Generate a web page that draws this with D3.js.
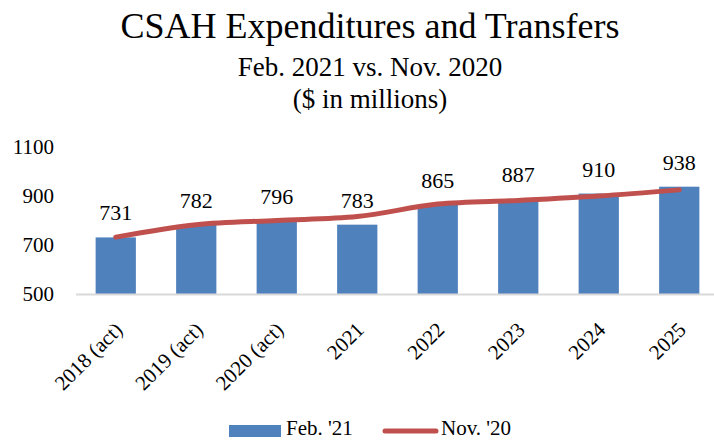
<!DOCTYPE html>
<html>
<head>
<meta charset="utf-8">
<script src="https://cdn.jsdelivr.net/npm/d3@7"></script>
<style>
  body { margin: 0; background: #fff; }
</style>
</head>
<body>
<div id="chart"></div>
<script>
// data
var categories = ["2018 (act)", "2019 (act)", "2020 (act)", "2021", "2022", "2023", "2024", "2025"];
var feb21 = [731, 782, 796, 783, 865, 887, 910, 938];
var nov20 = [732, 783, 800, 816, 867, 882, 900, 925];
var yTicks = [500, 700, 900, 1100];
var titleLines = ["CSAH Expenditures and Transfers", "Feb. 2021 vs. Nov. 2020", "($ in millions)"];
var seriesNames = ["Feb. '21", "Nov. '20"];

var W = 714, H = 440;
var barColor = "#4F81BD", lineColor = "#C0504D";
var serif = "'Liberation Serif', 'Times New Roman', Times, 'DejaVu Serif', 'Noto Serif', serif";

var svg = d3.select("#chart")
  .append("svg")
  .attr("width", W)
  .attr("height", H)
  .attr("font-family", serif)
  .style("font-family", serif);

// titles
var titleY = [38, 76, 108];
var titleSize = [36, 27, 27];
titleLines.forEach(function (t, i) {
  svg.append("text")
    .attr("x", 370)
    .attr("y", titleY[i])
    .attr("text-anchor", "middle")
    .style("font-size", titleSize[i] + "px")
    .text(t);
});

// scales
var x = d3.scaleBand().domain(categories).range([75.5, 719.5]).paddingInner(0.5).paddingOuter(0.25);
var y = d3.scaleLinear().domain([500, 1100]).range([294, 147]);

// y tick labels (no axis line, no gridlines)
svg.append("g")
  .selectAll("text")
  .data(yTicks)
  .enter()
  .append("text")
  .attr("x", 54)
  .attr("y", function (d) { return y(d); })
  .attr("dy", "0.35em")
  .attr("text-anchor", "end")
  .style("font-size", "21px")
  .text(function (d) { return d; });

// bars
svg.append("g")
  .selectAll("rect")
  .data(feb21)
  .enter()
  .append("rect")
  .attr("x", function (d, i) { return x(categories[i]); })
  .attr("width", x.bandwidth())
  .attr("y", function (d) { return y(d); })
  .attr("height", function (d) { return y(500) - y(d); })
  .attr("fill", barColor);

// category axis line
svg.append("line")
  .attr("x1", 76).attr("x2", W)
  .attr("y1", y(500) + 0.5).attr("y2", y(500) + 0.5)
  .attr("stroke", "#D9D9D9")
  .attr("stroke-width", 2);

// line series
var cx = function (i) { return x(categories[i]) + x.bandwidth() / 2; };
svg.append("path")
  .datum(nov20)
  .attr("d", d3.line()
    .x(function (d, i) { return cx(i); })
    .y(function (d) { return y(d); })
    .curve(d3.curveCatmullRom.alpha(0.5)))
  .attr("fill", "none")
  .attr("stroke", lineColor)
  .attr("stroke-width", 5)
  .attr("stroke-linecap", "round")
  .attr("stroke-linejoin", "round");

// bar value labels
svg.append("g")
  .selectAll("text")
  .data(feb21)
  .enter()
  .append("text")
  .attr("x", function (d, i) { return cx(i); })
  .attr("y", function (d) { return y(d) - 17; })
  .attr("text-anchor", "middle")
  .style("font-size", "22px")
  .text(function (d) { return d; });

// rotated category labels
svg.append("g")
  .selectAll("text")
  .data(categories)
  .enter()
  .append("text")
  .attr("transform", function (d, i) { return "translate(" + (cx(i) + 8) + ",331) rotate(-45)"; })
  .attr("text-anchor", "end")
  .style("font-size", "21px")
  .text(function (d) { return d; });

// legend
var lg = svg.append("g");
lg.append("rect")
  .attr("x", 229).attr("y", 425)
  .attr("width", 52).attr("height", 12)
  .attr("fill", barColor);
lg.append("text")
  .attr("x", 286).attr("y", 435)
  .style("font-size", "21px")
  .text(seriesNames[0]);
lg.append("line")
  .attr("x1", 385).attr("x2", 436)
  .attr("y1", 431).attr("y2", 431)
  .attr("stroke", lineColor)
  .attr("stroke-width", 5)
  .attr("stroke-linecap", "round");
lg.append("text")
  .attr("x", 441).attr("y", 435)
  .style("font-size", "21px")
  .text(seriesNames[1]);
</script>
</body>
</html>
